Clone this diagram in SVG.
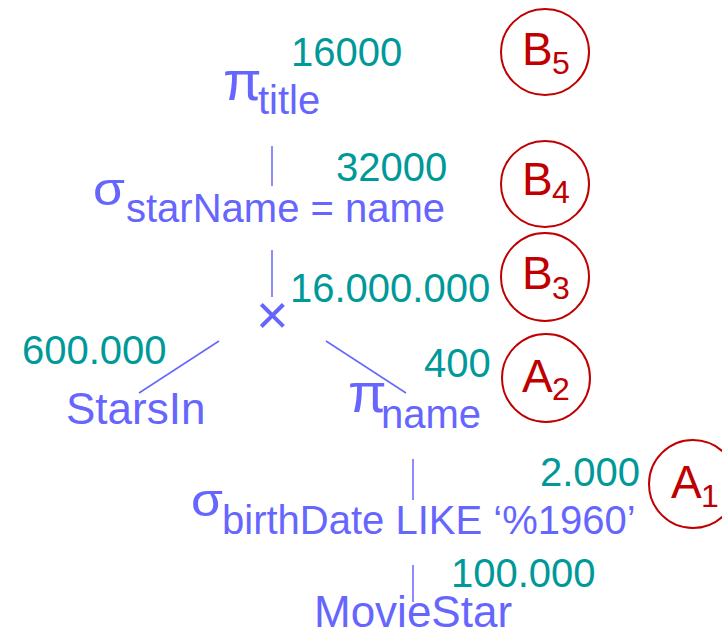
<svg xmlns="http://www.w3.org/2000/svg" width="722" height="637" viewBox="0 0 722 637">
  <style>
    text { font-family: "Liberation Sans", Arial, sans-serif; }
    .op { fill: #6666FF; font-size: 44px; }
    .greek { fill: #6666FF; font-size: 56px; }
    .sigma { fill: #6666FF; font-size: 47px; }
    .sub { fill: #6666FF; font-size: 40px; }
    .num { fill: #009999; font-size: 40px; }
    .lbl { fill: #C00000; font-size: 46px; }
    .lsub { fill: #C00000; font-size: 32px; }
    .ring { fill: none; stroke: #C00000; stroke-width: 2; }
    .edge { stroke: #6666FF; stroke-width: 1.5; fill: none; }
  </style>

  <!-- tree edges -->
  <g id="connectors">
    <line class="edge" x1="272" y1="146" x2="272" y2="186"/>
    <line class="edge" x1="272" y1="250" x2="272" y2="297"/>
    <line class="edge" x1="219" y1="341" x2="139" y2="393"/>
    <line class="edge" x1="326" y1="341" x2="406" y2="393"/>
    <line class="edge" x1="413" y1="459" x2="413" y2="500"/>
    <line class="edge" x1="413" y1="565" x2="413" y2="602"/>
  </g>

  <!-- projection on title -->
  <g id="proj-title">
    <text class="greek" x="223" y="100">π</text>
    <text class="sub" x="258" y="114">title</text>
    <text class="num" x="291" y="66">16000</text>
  </g>

  <!-- selection starName = name -->
  <g id="sel-starname">
    <text class="sigma" x="93" y="205" textLength="32" lengthAdjust="spacingAndGlyphs">σ</text>
    <text class="sub" x="126" y="222">starName = name</text>
    <text class="num" x="336" y="181">32000</text>
  </g>

  <!-- cross product -->
  <g id="cross">
    <text class="greek" x="256" y="334">×</text>
    <text class="num" x="290" y="302">16.000.000</text>
  </g>

  <!-- StarsIn relation -->
  <g id="starsin">
    <text class="op" x="66" y="424">StarsIn</text>
    <text class="num" x="22" y="364">600.000</text>
  </g>

  <!-- projection on name -->
  <g id="proj-name">
    <text class="greek" x="348" y="412">π</text>
    <text class="sub" x="381" y="428">name</text>
    <text class="num" x="424" y="377">400</text>
  </g>

  <!-- selection birthDate -->
  <g id="sel-birthdate">
    <text class="sigma" x="191" y="516" textLength="32" lengthAdjust="spacingAndGlyphs">σ</text>
    <text class="sub" x="222" y="534">birthDate LIKE ‘%1960’</text>
    <text class="num" x="540" y="486">2.000</text>
  </g>

  <!-- MovieStar relation -->
  <g id="moviestar">
    <text class="op" x="314" y="627">MovieStar</text>
    <text class="num" x="451" y="587">100.000</text>
  </g>

  <!-- step labels -->
  <g id="label-b5">
    <ellipse class="ring" cx="545" cy="52" rx="44" ry="43"/>
    <text class="lbl" x="522" y="65">B</text>
    <text class="lsub" x="552" y="74">5</text>
  </g>
  <g id="label-b4">
    <ellipse class="ring" cx="545" cy="184" rx="44" ry="43"/>
    <text class="lbl" x="522" y="195">B</text>
    <text class="lsub" x="552" y="203">4</text>
  </g>
  <g id="label-b3">
    <ellipse class="ring" cx="545" cy="277" rx="44" ry="44"/>
    <text class="lbl" x="522" y="289">B</text>
    <text class="lsub" x="552" y="299">3</text>
  </g>
  <g id="label-a2">
    <ellipse class="ring" cx="546" cy="378" rx="44" ry="44"/>
    <text class="lbl" x="522" y="392">A</text>
    <text class="lsub" x="552" y="400">2</text>
  </g>
  <g id="label-a1">
    <ellipse class="ring" cx="693" cy="484" rx="44" ry="44"/>
    <text class="lbl" x="671" y="498">A</text>
    <text class="lsub" x="701" y="507">1</text>
  </g>
</svg>
